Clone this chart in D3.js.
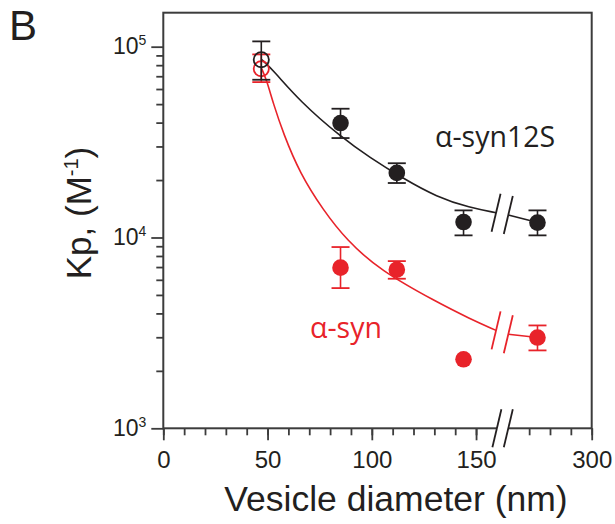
<!DOCTYPE html>
<html>
<head>
<meta charset="utf-8">
<script src="https://cdn.jsdelivr.net/npm/d3@7"></script>
<style>
  html, body { margin: 0; padding: 0; background: #fff; }
  svg { display: block; }
  .tick text { font-family: "Liberation Sans", Arial, sans-serif; fill: #231f20; }
</style>
</head>
<body>
<svg id="chart" width="615" height="524"></svg>
<script>
// Vesicle diameter (nm) of each measured sample
const diameters = [47, 85, 112, 144, 274];

// α-syn12S partition coefficients with error-bar bounds
const syn12S   = [85500, 39800, 21800, 12050, 11970];
const syn12SLo = [67100, 33200, 19300, 10260, 10260];
const syn12SHi = [106600, 47300, 24500, 13870, 13870];

// α-syn partition coefficients with error-bar bounds (null = no bar)
const synWT   = [76700, 6950, 6780, 2300, 2990];
const synWTLo = [65200, 5430, 6080, null, 2560];
const synWTHi = [91100, 8910, 7520, null, 3460];

// First point of each series is drawn hollow
const hollow = [true, false, false, false, false];

// Fitted curves (diameter, Kp)
const fit12SX = [47.2, 52.8, 65.6, 85.1, 99.1, 115.0, 131.1, 147.1, 159.6, 260, 274.1];
const fit12SY = [85500, 75100, 51600, 33700, 26200, 20400, 16300, 14300, 13490, 13130, 11970];
const fitWTX  = [47.2, 49.6, 52.8, 57.6, 65.6, 76.7, 88.0, 103.9, 131.1, 147.1, 159.6, 260, 274.1];
const fitWTY  = [76700, 66600, 50200, 35000, 21600, 13900, 9660, 6730, 4590, 3750, 3260, 3110, 2990];

// Axis ticks
const xMinorTicks = [0, 10, 20, 30, 40, 50, 60, 70, 80, 90, 100, 110, 120, 130, 140, 150, 270, 280, 290, 300];
const xMajorTicks = [0, 50, 100, 150, 300];
const yMajorTicks = [1e3, 1e4, 1e5];
const yMajorExp   = ["3", "4", "5"];

// Broken x-axis: 160–260 nm is collapsed into the gap
const breakLo = 160, breakHi = 260;

const RED = "#e8232a", BLACK = "#231f20", AXIS = "#3c3c3c";
const plotL = 163.3, plotR = 591.7, plotT = 12.7, plotB = 428.3;

const svg = d3.select("#chart");

const x = d3.scaleLinear()
  .domain([0, breakLo, breakHi, 300])
  .range([plotL, 496.9, 508.3, plotR]);
const y = d3.scaleLog()
  .domain([1000, 150700])
  .range([plotB, plotT]);

// ---- axes ----
const gx = svg.append("g").attr("transform", `translate(0,${plotB})`);
gx.append("g").call(d3.axisBottom(x).tickValues(xMinorTicks).tickSize(7).tickFormat(""));
gx.append("g").call(d3.axisBottom(x).tickValues(xMajorTicks).tickSize(12).tickPadding(11).tickFormat(d3.format("d")));
gx.selectAll(".domain").remove();
gx.selectAll(".tick line").attr("stroke", AXIS).attr("stroke-width", 1.8);
gx.selectAll(".tick text").style("font-size", "24px");

const yMinor = y.ticks(20).filter(v => !yMajorTicks.includes(v));
const gy = svg.append("g").attr("transform", `translate(${plotL},0)`);
gy.append("g").call(d3.axisLeft(y).tickValues(yMinor).tickSize(7).tickFormat(""));
const gyMaj = gy.append("g").call(d3.axisLeft(y).tickValues(yMajorTicks).tickSize(12).tickPadding(5).tickFormat(""));
gy.selectAll(".domain").remove();
gy.selectAll(".tick line").attr("stroke", AXIS).attr("stroke-width", 1.8);
gyMaj.selectAll(".tick text").each(function(d, i) {
  const t = d3.select(this).style("font-size", "23px").attr("dy", "7px");
  t.append("tspan").text("10");
  t.append("tspan").attr("dy", "-9px").style("font-size", "14px").text(yMajorExp[i]);
});

// frame
svg.append("rect")
  .attr("x", plotL).attr("y", plotT)
  .attr("width", plotR - plotL).attr("height", plotB - plotT)
  .attr("fill", "none").attr("stroke", AXIS).attr("stroke-width", 2);

// break marks: a pair of slashes with a white gap between them
function breakMark(cx1, cx2, cy, color) {
  const g = svg.append("g");
  g.append("rect").attr("x", cx1).attr("y", cy - 3).attr("width", cx2 - cx1).attr("height", 6).attr("fill", "#fff");
  [cx1, cx2].forEach(cx => {
    g.append("line")
      .attr("x1", cx - 4.5).attr("y1", cy + 19)
      .attr("x2", cx + 4.5).attr("y2", cy - 19)
      .attr("stroke", color).attr("stroke-width", 1.8);
  });
}
breakMark(x(breakLo), x(breakHi), plotB, BLACK);

// ---- fitted curves ----
const line = d3.line().x(d => x(d[0])).y(d => y(d[1])).curve(d3.curveBasis);
function drawFit(xs, ys, color) {
  const pts = xs.map((v, i) => [v, ys[i]]);
  const seg1 = pts.filter(p => p[0] <= breakLo);
  const seg2 = pts.filter(p => p[0] >= breakHi);
  [seg1, seg2].forEach(seg => {
    svg.append("path").attr("d", line(seg))
      .attr("fill", "none").attr("stroke", color).attr("stroke-width", 1.6);
  });
  const a = seg1[seg1.length - 1], b = seg2[0];
  [a, b].forEach(p => {
    svg.append("line")
      .attr("x1", x(p[0]) - 4.5).attr("y1", y(p[1]) + 19)
      .attr("x2", x(p[0]) + 4.5).attr("y2", y(p[1]) - 19)
      .attr("stroke", color).attr("stroke-width", 1.8);
  });
}
drawFit(fitWTX, fitWTY, RED);
drawFit(fit12SX, fit12SY, BLACK);

// ---- points with error bars ----
function drawSeries(vals, lo, hi, color) {
  const g = svg.append("g");
  diameters.forEach((d, i) => {
    const cx = x(d);
    if (lo[i] != null) {
      const y1 = y(hi[i]), y2 = y(lo[i]);
      g.append("line").attr("x1", cx).attr("x2", cx).attr("y1", y1).attr("y2", y2)
        .attr("stroke", color).attr("stroke-width", 1.6);
      [y1, y2].forEach(yy => g.append("line")
        .attr("x1", cx - 9).attr("x2", cx + 9).attr("y1", yy).attr("y2", yy)
        .attr("stroke", color).attr("stroke-width", 1.8));
    }
  });
  diameters.forEach((d, i) => {
    g.append("circle").attr("cx", x(d)).attr("cy", y(vals[i]))
      .attr("r", hollow[i] ? 7.6 : 8.3)
      .attr("fill", hollow[i] ? "none" : color)
      .attr("stroke", hollow[i] ? color : "none")
      .attr("stroke-width", 1.8);
  });
}
drawSeries(synWT, synWTLo, synWTHi, RED);
drawSeries(syn12S, syn12SLo, syn12SHi, BLACK);

// ---- labels ----
svg.append("text").attr("x", 435).attr("y", 147)
  .style("font-family", "'Open Sans', sans-serif").style("font-size", "28.5px").attr("fill", BLACK)
  .text("α-syn12S");
svg.append("text").attr("x", 310).attr("y", 338)
  .style("font-family", "'Open Sans', sans-serif").style("font-size", "28.5px").attr("fill", RED)
  .text("α-syn");

svg.append("text").attr("x", 396).attr("y", 511).attr("text-anchor", "middle")
  .style("font-family", "'Liberation Sans', Arial, sans-serif").style("font-size", "35.5px").attr("fill", BLACK)
  .text("Vesicle diameter (nm)");

const yt = svg.append("text").attr("transform", "translate(91,213) rotate(-90)").attr("text-anchor", "middle")
  .style("font-family", "'Liberation Sans', Arial, sans-serif").style("font-size", "35px").attr("fill", BLACK);
yt.append("tspan").text("Kp, (M");
yt.append("tspan").attr("dy", "-13px").style("font-size", "20px").text("-1");
yt.append("tspan").attr("dy", "13px").text(")");

svg.append("text").attr("x", 9).attr("y", 40)
  .style("font-family", "'Liberation Sans', Arial, sans-serif").style("font-size", "42px").attr("fill", BLACK)
  .text("B");
</script>
</body>
</html>
